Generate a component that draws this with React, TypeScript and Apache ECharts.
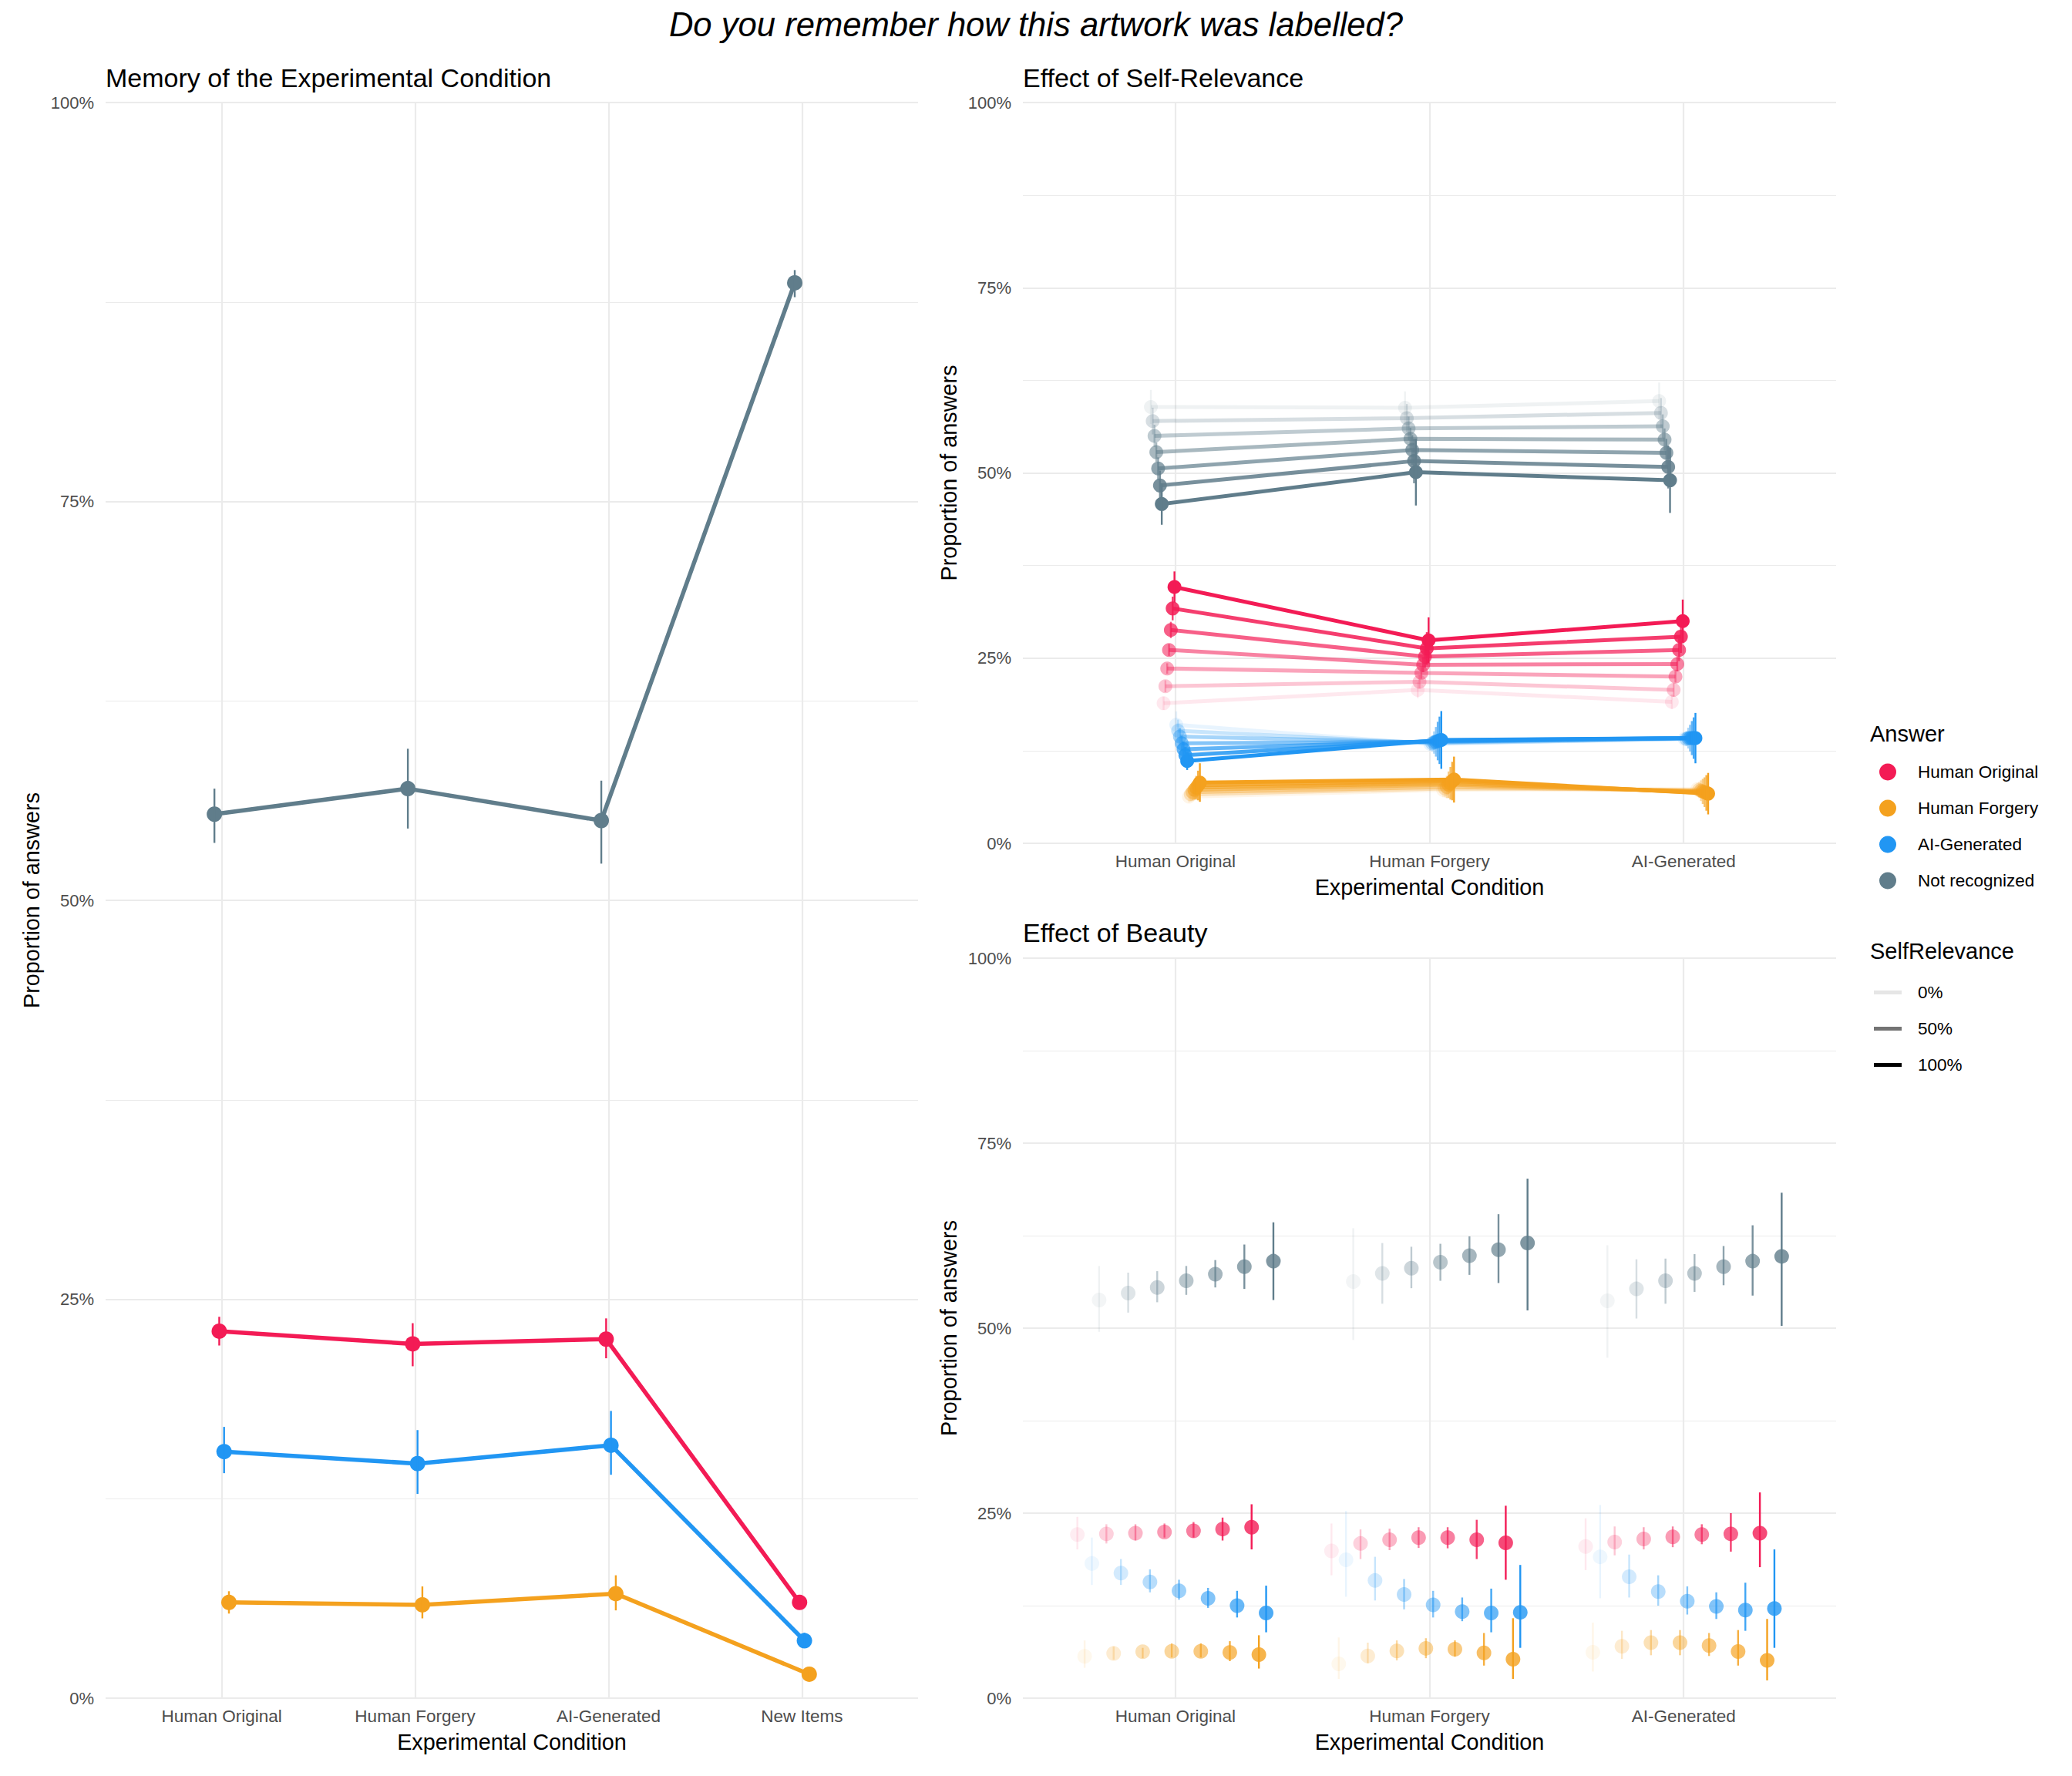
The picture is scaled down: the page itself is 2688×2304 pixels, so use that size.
import React, { useEffect, useRef } from "react";
import * as echarts from "echarts";

const FONT = "'Liberation Sans', Arial, Helvetica, sans-serif";

// ---------- categories & labels ----------
const LEFT_CONDITIONS = ["Human Original", "Human Forgery", "AI-Generated", "New Items"];
const RIGHT_CONDITIONS = ["Human Original", "Human Forgery", "AI-Generated"];
const ANSWERS = ["Human Original", "Human Forgery", "AI-Generated", "Not recognized"];
const SELF_RELEVANCE_LEGEND = ["0%", "50%", "100%"];
const Y_TICK_STEP = 25;

// ---------- Panel 1: Memory of the Experimental Condition (percent) ----------
// index order: Human Original, Human Forgery, AI-Generated, New Items
const memOriginal = [23.0, 22.2, 22.5, 6.0];
const memOriginalLo = [22.1, 20.8, 21.3, 5.7];
const memOriginalHi = [23.9, 23.5, 23.8, 6.3];
const memForgery = [6.0, 5.85, 6.55, 1.5];
const memForgeryLo = [5.3, 5.0, 5.5, 1.3];
const memForgeryHi = [6.7, 7.0, 7.7, 1.7];
const memAI = [15.45, 14.7, 15.85, 3.6];
const memAILo = [14.1, 12.8, 14.0, 3.3];
const memAIHi = [17.0, 16.8, 18.0, 4.1];
const memNotRec = [55.4, 57.0, 55.0, 88.7];
const memNotRecLo = [53.6, 54.5, 52.3, 87.8];
const memNotRecHi = [57.0, 59.5, 57.5, 89.5];

// ---------- Panel 2: Effect of Self-Relevance ----------
// rows: self-relevance level (0% .. 100%, 7 levels); cols: HO, HF, AI
const srNotRec = [
  [58.9, 58.8, 59.7],
  [57.0, 57.4, 58.1],
  [55.0, 56.0, 56.3],
  [52.8, 54.6, 54.5],
  [50.6, 53.1, 52.7],
  [48.3, 51.6, 50.8],
  [45.8, 50.1, 49.0],
];
const srNotRecCI = [
  [2.3, 2.2, 2.5],
  [1.8, 1.9, 2.0],
  [1.5, 1.6, 1.6],
  [1.3, 1.5, 1.5],
  [1.5, 2.0, 1.9],
  [2.0, 3.0, 2.9],
  [2.8, 4.5, 4.4],
];
const srOriginal = [
  [18.9, 20.7, 19.1],
  [21.2, 21.8, 20.7],
  [23.6, 23.0, 22.5],
  [26.1, 24.1, 24.2],
  [28.8, 25.2, 26.1],
  [31.7, 26.3, 27.9],
  [34.6, 27.4, 30.0],
];
const srOriginalCI = [
  [0.9, 1.1, 1.0],
  [0.8, 0.9, 0.9],
  [0.7, 0.8, 0.8],
  [0.8, 1.0, 1.0],
  [1.1, 1.5, 1.5],
  [1.6, 2.2, 2.2],
  [2.1, 3.1, 2.9],
];
const srAI = [
  [16.0, 13.4, 14.1],
  [15.2, 13.5, 14.1],
  [14.4, 13.6, 14.2],
  [13.5, 13.7, 14.2],
  [12.7, 13.8, 14.2],
  [11.9, 13.9, 14.2],
  [11.1, 13.95, 14.2],
];
const srAICI = [
  [1.8, 0.9, 0.8],
  [1.5, 1.1, 1.0],
  [1.2, 1.5, 1.4],
  [1.0, 2.0, 1.8],
  [1.0, 2.6, 2.3],
  [1.1, 3.2, 2.8],
  [1.2, 3.9, 3.4],
];
const srForgery = [
  [6.3, 7.2, 7.3],
  [6.6, 7.4, 7.2],
  [6.9, 7.6, 7.1],
  [7.2, 7.9, 7.0],
  [7.5, 8.1, 6.9],
  [7.8, 8.4, 6.8],
  [8.2, 8.6, 6.7],
];
const srForgeryCI = [
  [0.8, 1.0, 0.9],
  [0.9, 1.2, 1.1],
  [1.1, 1.5, 1.4],
  [1.3, 1.8, 1.7],
  [1.6, 2.2, 2.0],
  [2.0, 2.6, 2.4],
  [2.6, 3.1, 2.8],
];

// ---------- Panel 3: Effect of Beauty ----------
// rows: condition (HO, HF, AI); cols: beauty level (7 levels, low -> high)
const bOriginal = [
  [22.1, 22.2, 22.3, 22.45, 22.6, 22.85, 23.1],
  [19.9, 20.9, 21.4, 21.7, 21.7, 21.4, 21.0],
  [20.5, 21.1, 21.5, 21.8, 22.1, 22.2, 22.3],
];
const bOriginalLo = [
  [20.1, 20.9, 21.3, 21.7, 21.7, 21.3, 20.1],
  [16.6, 18.8, 20.0, 20.3, 20.25, 18.8, 16.0],
  [17.3, 19.3, 20.1, 20.4, 20.8, 19.8, 17.7],
];
const bOriginalHi = [
  [24.5, 23.5, 23.5, 23.6, 23.8, 24.4, 26.2],
  [23.6, 22.8, 22.9, 23.1, 23.1, 24.1, 26.0],
  [24.3, 23.2, 23.1, 23.2, 23.5, 25.0, 27.8],
];
const bForgery = [
  [5.66, 6.05, 6.28, 6.33, 6.33, 6.17, 5.88],
  [4.64, 5.71, 6.39, 6.73, 6.62, 6.11, 5.26],
  [6.2, 7.0, 7.5, 7.5, 7.1, 6.3, 5.1],
];
const bForgeryLo = [
  [4.1, 5.2, 5.4, 5.5, 5.5, 5.0, 4.0],
  [2.6, 4.7, 5.1, 5.4, 5.6, 4.4, 2.6],
  [3.6, 5.3, 5.8, 5.8, 5.7, 4.4, 2.4],
];
const bForgeryHi = [
  [7.8, 7.0, 6.8, 7.4, 7.4, 7.7, 8.5],
  [8.2, 7.5, 7.8, 8.1, 7.8, 8.8, 10.8],
  [10.2, 9.1, 9.2, 9.2, 8.8, 9.2, 10.7],
];
const bAI = [
  [18.2, 16.9, 15.7, 14.5, 13.5, 12.5, 11.5],
  [18.7, 15.9, 14.0, 12.6, 11.7, 11.5, 11.6],
  [19.1, 16.4, 14.4, 13.1, 12.4, 11.9, 12.1],
];
const bAILo = [
  [15.3, 15.3, 14.3, 13.3, 12.2, 10.9, 8.9],
  [13.7, 13.2, 12.0, 10.9, 10.4, 8.9, 6.8],
  [13.5, 13.6, 12.5, 11.3, 10.7, 9.1, 6.8],
];
const bAIHi = [
  [21.7, 18.8, 17.4, 16.0, 14.9, 14.5, 15.2],
  [25.3, 19.1, 16.1, 14.5, 13.6, 14.8, 18.0],
  [26.1, 19.4, 16.6, 15.1, 14.3, 15.6, 20.1],
];
const bNotRec = [
  [53.8, 54.75, 55.5, 56.4, 57.3, 58.3, 59.05],
  [56.3, 57.4, 58.1, 58.9, 59.8, 60.6, 61.5],
  [53.7, 55.3, 56.4, 57.4, 58.3, 59.05, 59.7],
];
const bNotRecLo = [
  [49.5, 52.1, 53.5, 54.5, 55.5, 55.3, 53.8],
  [48.4, 53.3, 55.4, 56.4, 57.2, 56.1, 52.4],
  [46.0, 51.3, 53.3, 54.9, 55.8, 54.4, 50.3],
];
const bNotRecHi = [
  [58.4, 57.5, 57.7, 58.4, 59.2, 61.3, 64.3],
  [63.5, 61.5, 61.0, 61.4, 62.4, 65.4, 70.2],
  [61.2, 59.3, 59.4, 60.0, 61.1, 63.9, 68.3],
];

// ---------- styles ----------
const COLOR: Record<string, string> = {
  "Human Original": "#F31B55",
  "Human Forgery": "#F4A11E",
  "AI-Generated": "#2196F3",
  "Not recognized": "#607D8B",
};
const LEVEL_ALPHA = [0.1, 0.25, 0.4, 0.55, 0.7, 0.85, 1.0];
const SR_LEGEND_COLORS = ["#e6e6e6", "#737373", "#000000"];
const GRID_COLOR = "#ebebeb";

function rgba(hex: string, a: number) {
  const r = parseInt(hex.slice(1, 3), 16);
  const g = parseInt(hex.slice(3, 5), 16);
  const b = parseInt(hex.slice(5, 7), 16);
  return `rgba(${r},${g},${b},${a})`;
}

function errorBars(xi: number, color: string, data: number[][], width: number, z = 3) {
  return {
    type: "custom",
    xAxisIndex: xi,
    yAxisIndex: xi,
    silent: true,
    z,
    data,
    encode: { x: 0, y: [1, 2] },
    renderItem: (_params: any, api: any) => {
      const x = api.value(0);
      const p1 = api.coord([x, api.value(1)]);
      const p2 = api.coord([x, api.value(2)]);
      return {
        type: "line",
        shape: { x1: p1[0], y1: p1[1], x2: p2[0], y2: p2[1] },
        style: { stroke: color, lineWidth: width },
      };
    },
  };
}

function xAxisFor(idx: number, cats: string[]) {
  const vals = cats.map((_, i) => i + 1);
  return {
    type: "value",
    gridIndex: idx,
    min: 0.4,
    max: cats.length + 0.6,
    axisLine: { show: false },
    axisTick: { show: false, customValues: vals },
    axisLabel: {
      customValues: vals,
      formatter: (v: number) => cats[Math.round(v) - 1] ?? "",
      fontSize: 22.5,
      color: "#4d4d4d",
      margin: 12,
      fontFamily: FONT,
    },
    splitLine: { show: true, lineStyle: { color: GRID_COLOR, width: 2.2 } },
    name: "Experimental Condition",
    nameLocation: "middle",
    nameGap: 42,
    nameTextStyle: { fontSize: 28.8, color: "#000", fontFamily: FONT },
  };
}

function yAxisFor(idx: number) {
  return {
    type: "value",
    gridIndex: idx,
    min: 0,
    max: 100,
    interval: Y_TICK_STEP,
    axisLine: { show: false },
    axisTick: { show: false },
    minorTick: { show: false, splitNumber: 2 },
    minorSplitLine: { show: true, lineStyle: { color: GRID_COLOR, width: 1.1 } },
    splitLine: { show: true, lineStyle: { color: GRID_COLOR, width: 2.2 } },
    axisLabel: {
      formatter: (v: number) => `${v}%`,
      fontSize: 22,
      color: "#4d4d4d",
      margin: 15,
      fontFamily: FONT,
    },
    name: "Proportion of answers",
    nameLocation: "middle",
    nameGap: 82,
    nameTextStyle: { fontSize: 28.8, color: "#000", fontFamily: FONT },
  };
}

function buildOption() {
  const series: any[] = [];

  // ---- Panel 1 ----
  const mem = {
    "Human Original": [memOriginal, memOriginalLo, memOriginalHi],
    "Human Forgery": [memForgery, memForgeryLo, memForgeryHi],
    "AI-Generated": [memAI, memAILo, memAIHi],
    "Not recognized": [memNotRec, memNotRecLo, memNotRecHi],
  } as Record<string, number[][]>;
  const memDodge: Record<string, number> = {
    "Not recognized": -0.0375,
    "Human Original": -0.0125,
    "AI-Generated": 0.0125,
    "Human Forgery": 0.0375,
  };
  ["Not recognized", "Human Original", "AI-Generated", "Human Forgery"].forEach((a) => {
    const [m, lo, hi] = mem[a];
    const off = memDodge[a];
    series.push({
      type: "line",
      name: a,
      xAxisIndex: 0,
      yAxisIndex: 0,
      color: COLOR[a],
      symbol: "circle",
      symbolSize: 20,
      lineStyle: { width: 5.5, color: COLOR[a] },
      itemStyle: { color: COLOR[a] },
      emphasis: { disabled: true },
      z: 2,
      data: m.map((v, c) => [c + 1 + off, v]),
    });
    series.push(errorBars(0, COLOR[a], m.map((_, c) => [c + 1 + off, lo[c], hi[c]]), 2.4));
  });

  // ---- Panel 2 ----
  const sr = [
    ["Not recognized", srNotRec, srNotRecCI],
    ["Human Original", srOriginal, srOriginalCI],
    ["AI-Generated", srAI, srAICI],
    ["Human Forgery", srForgery, srForgeryCI],
  ] as [string, number[][], number[][]][];
  const nSr = 28;
  sr.forEach(([a, means, ci], ai) => {
    means.forEach((row, lvl) => {
      const gi = ai * 7 + lvl;
      const off = -0.1 + ((gi + 0.5) * 0.2) / nSr;
      const col = rgba(COLOR[a], LEVEL_ALPHA[lvl]);
      series.push({
        type: "line",
        name: `sr-${a}-${lvl}`,
        xAxisIndex: 1,
        yAxisIndex: 1,
        symbol: "circle",
        symbolSize: 18,
        lineStyle: { width: 5, color: col },
        itemStyle: { color: col },
        emphasis: { disabled: true },
        z: 2,
        data: row.map((v, c) => [c + 1 + off, v]),
      });
      series.push(
        errorBars(1, col, row.map((v, c) => [c + 1 + off, v - ci[lvl][c], v + ci[lvl][c]]), 2.4)
      );
    });
  });

  // ---- Panel 3 ----
  const bd = [
    ["Human Original", bOriginal, bOriginalLo, bOriginalHi],
    ["Human Forgery", bForgery, bForgeryLo, bForgeryHi],
    ["AI-Generated", bAI, bAILo, bAIHi],
    ["Not recognized", bNotRec, bNotRecLo, bNotRecHi],
  ] as [string, number[][], number[][], number[][]][];
  const nB = 28;
  for (let lvl = 0; lvl < 7; lvl++) {
    bd.forEach(([a, m, lo, hi], ai) => {
      const gi = lvl * 4 + ai;
      const off = -0.4 + ((gi + 0.5) * 0.8) / nB;
      const col = rgba(COLOR[a], LEVEL_ALPHA[lvl]);
      series.push(
        errorBars(2, col, RIGHT_CONDITIONS.map((_, c) => [c + 1 + off, lo[c][lvl], hi[c][lvl]]), 2.4, 2)
      );
      series.push({
        type: "scatter",
        name: `b-${a}-${lvl}`,
        xAxisIndex: 2,
        yAxisIndex: 2,
        symbol: "circle",
        symbolSize: 19,
        itemStyle: { color: col },
        emphasis: { disabled: true },
        z: 3,
        data: RIGHT_CONDITIONS.map((_, c) => [c + 1 + off, m[c][lvl]]),
      });
    });
  }

  // dummy series for SelfRelevance legend
  SELF_RELEVANCE_LEGEND.forEach((n, i) => {
    series.push({
      type: "line",
      name: n,
      xAxisIndex: 1,
      yAxisIndex: 1,
      color: SR_LEGEND_COLORS[i],
      itemStyle: { color: SR_LEGEND_COLORS[i] },
      lineStyle: { color: SR_LEGEND_COLORS[i] },
      data: [],
    });
  });

  return {
    animation: false,
    backgroundColor: "#ffffff",
    textStyle: { fontFamily: FONT },
    title: [
      {
        text: "Do you remember how this artwork was labelled?",
        left: "center",
        top: 10,
        padding: 0,
        textStyle: { fontSize: 43.6, fontStyle: "italic", fontWeight: "normal", color: "#000", fontFamily: FONT },
      },
      {
        text: "Memory of the Experimental Condition",
        left: 137,
        top: 84,
        padding: 0,
        textStyle: { fontSize: 34, fontWeight: "normal", color: "#000", fontFamily: FONT },
      },
      {
        text: "Effect of Self-Relevance",
        left: 1327,
        top: 84,
        padding: 0,
        textStyle: { fontSize: 34, fontWeight: "normal", color: "#000", fontFamily: FONT },
      },
      {
        text: "Effect of Beauty",
        left: 1327,
        top: 1193,
        padding: 0,
        textStyle: { fontSize: 34, fontWeight: "normal", color: "#000", fontFamily: FONT },
      },
      {
        text: "Answer",
        left: 2426,
        top: 937,
        padding: 0,
        textStyle: { fontSize: 29, fontWeight: "normal", color: "#000", fontFamily: FONT },
      },
      {
        text: "SelfRelevance",
        left: 2426,
        top: 1219,
        padding: 0,
        textStyle: { fontSize: 29, fontWeight: "normal", color: "#000", fontFamily: FONT },
      },
    ],
    legend: [
      {
        data: ANSWERS,
        orient: "vertical",
        left: 2438,
        top: 990,
        padding: 0,
        icon: "circle",
        itemWidth: 22,
        itemHeight: 22,
        itemGap: 24,
        selectedMode: false,
        textStyle: { fontSize: 22.5, color: "#000", fontFamily: FONT, padding: [0, 0, 0, 23] },
      },
      {
        data: SELF_RELEVANCE_LEGEND,
        orient: "vertical",
        left: 2431,
        top: 1276,
        padding: 0,
        icon: "rect",
        itemWidth: 36,
        itemHeight: 5,
        itemGap: 24,
        selectedMode: false,
        textStyle: { fontSize: 22.5, color: "#000", fontFamily: FONT, padding: [0, 0, 0, 16] },
      },
    ],
    grid: [
      { left: 137, top: 133, width: 1054, height: 2070, containLabel: false },
      { left: 1327, top: 133, width: 1055, height: 961, containLabel: false },
      { left: 1327, top: 1243, width: 1055, height: 960, containLabel: false },
    ],
    xAxis: [xAxisFor(0, LEFT_CONDITIONS), xAxisFor(1, RIGHT_CONDITIONS), xAxisFor(2, RIGHT_CONDITIONS)],
    yAxis: [yAxisFor(0), yAxisFor(1), yAxisFor(2)],
    series,
  };
}

export default function App() {
  const ref = useRef<HTMLDivElement>(null);
  useEffect(() => {
    if (!ref.current) return;
    const chart = echarts.init(ref.current, undefined, { renderer: "svg" });
    chart.setOption(buildOption() as any);
    return () => chart.dispose();
  }, []);
  return (
    <div
      ref={ref}
      style={{ position: "fixed", left: 0, top: 0, width: "2688px", height: "2304px", background: "#fff" }}
    />
  );
}
